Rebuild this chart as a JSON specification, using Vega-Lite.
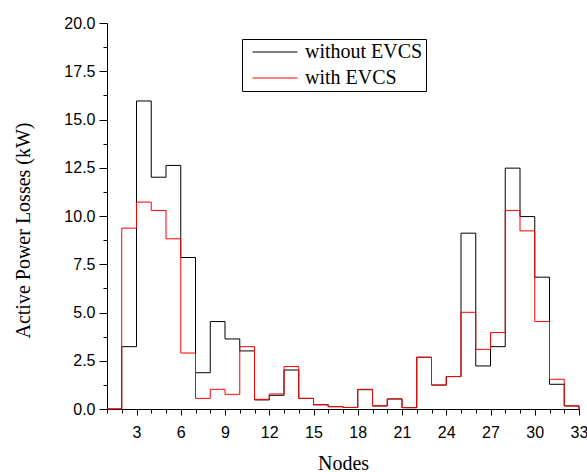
{
  "$schema": "https://vega.github.io/schema/vega-lite/v6.json",
  "autosize": {"type": "none"},
  "padding": {"left": 107, "top": 23, "right": 8, "bottom": 63},
  "width": 472,
  "height": 386,
  "background": "white",
  "config": {"view": {"stroke": null}},
  "data": {"values": [
    {"node": 1, "series": "without EVCS", "loss": 0},
    {"node": 2, "series": "without EVCS", "loss": 3.23},
    {"node": 3, "series": "without EVCS", "loss": 15.96},
    {"node": 4, "series": "without EVCS", "loss": 12.01},
    {"node": 5, "series": "without EVCS", "loss": 12.62},
    {"node": 6, "series": "without EVCS", "loss": 7.85},
    {"node": 7, "series": "without EVCS", "loss": 1.88},
    {"node": 8, "series": "without EVCS", "loss": 4.53},
    {"node": 9, "series": "without EVCS", "loss": 3.63},
    {"node": 10, "series": "without EVCS", "loss": 3.01},
    {"node": 11, "series": "without EVCS", "loss": 0.47},
    {"node": 12, "series": "without EVCS", "loss": 0.71},
    {"node": 13, "series": "without EVCS", "loss": 2.02},
    {"node": 14, "series": "without EVCS", "loss": 0.55},
    {"node": 15, "series": "without EVCS", "loss": 0.22},
    {"node": 16, "series": "without EVCS", "loss": 0.12},
    {"node": 17, "series": "without EVCS", "loss": 0.08},
    {"node": 18, "series": "without EVCS", "loss": 1.0},
    {"node": 19, "series": "without EVCS", "loss": 0.16},
    {"node": 20, "series": "without EVCS", "loss": 0.52},
    {"node": 21, "series": "without EVCS", "loss": 0.07},
    {"node": 22, "series": "without EVCS", "loss": 2.68},
    {"node": 23, "series": "without EVCS", "loss": 1.24},
    {"node": 24, "series": "without EVCS", "loss": 1.68},
    {"node": 25, "series": "without EVCS", "loss": 9.11},
    {"node": 26, "series": "without EVCS", "loss": 2.23},
    {"node": 27, "series": "without EVCS", "loss": 3.23},
    {"node": 28, "series": "without EVCS", "loss": 12.48},
    {"node": 29, "series": "without EVCS", "loss": 9.97},
    {"node": 30, "series": "without EVCS", "loss": 6.83},
    {"node": 31, "series": "without EVCS", "loss": 1.28},
    {"node": 32, "series": "without EVCS", "loss": 0.16},
    {"node": 33, "series": "without EVCS", "loss": 0},
    {"node": 1, "series": "with EVCS", "loss": 0},
    {"node": 2, "series": "with EVCS", "loss": 9.37},
    {"node": 3, "series": "with EVCS", "loss": 10.72},
    {"node": 4, "series": "with EVCS", "loss": 10.29},
    {"node": 5, "series": "with EVCS", "loss": 8.82},
    {"node": 6, "series": "with EVCS", "loss": 2.9},
    {"node": 7, "series": "with EVCS", "loss": 0.55},
    {"node": 8, "series": "with EVCS", "loss": 1.02},
    {"node": 9, "series": "with EVCS", "loss": 0.76},
    {"node": 10, "series": "with EVCS", "loss": 3.23},
    {"node": 11, "series": "with EVCS", "loss": 0.5},
    {"node": 12, "series": "with EVCS", "loss": 0.78},
    {"node": 13, "series": "with EVCS", "loss": 2.2},
    {"node": 14, "series": "with EVCS", "loss": 0.55},
    {"node": 15, "series": "with EVCS", "loss": 0.22},
    {"node": 16, "series": "with EVCS", "loss": 0.12},
    {"node": 17, "series": "with EVCS", "loss": 0.08},
    {"node": 18, "series": "with EVCS", "loss": 1.02},
    {"node": 19, "series": "with EVCS", "loss": 0.16},
    {"node": 20, "series": "with EVCS", "loss": 0.52},
    {"node": 21, "series": "with EVCS", "loss": 0.07},
    {"node": 22, "series": "with EVCS", "loss": 2.68},
    {"node": 23, "series": "with EVCS", "loss": 1.24},
    {"node": 24, "series": "with EVCS", "loss": 1.68},
    {"node": 25, "series": "with EVCS", "loss": 5.01},
    {"node": 26, "series": "with EVCS", "loss": 3.09},
    {"node": 27, "series": "with EVCS", "loss": 3.96},
    {"node": 28, "series": "with EVCS", "loss": 10.29},
    {"node": 29, "series": "with EVCS", "loss": 9.23},
    {"node": 30, "series": "with EVCS", "loss": 4.53},
    {"node": 31, "series": "with EVCS", "loss": 1.54},
    {"node": 32, "series": "with EVCS", "loss": 0.16},
    {"node": 33, "series": "with EVCS", "loss": 0}
  ]},
  "mark": {"type": "line", "interpolate": "step-after", "strokeWidth": 1, "clip": false},
  "encoding": {
    "x": {
      "field": "node", "type": "quantitative",
      "scale": {"domain": [1, 33], "nice": false, "zero": false},
      "axis": {
        "title": "Nodes",
        "titleFont": "Liberation Serif", "titleFontSize": 20, "titleFontWeight": "normal", "titleColor": "black",
        "titleBaseline": "alphabetic", "titleY": 60,
        "values": [1,2,3,4,5,6,7,8,9,10,11,12,13,14,15,16,17,18,19,20,21,22,23,24,25,26,27,28,29,30,31,32,33],
        "labelExpr": "datum.value % 3 === 0 ? datum.label : ''",
        "labelOverlap": false, "labelFlush": false,
        "labelFont": "Liberation Sans", "labelFontSize": 16, "labelColor": "black",
        "labelPadding": 9,
        "tickSize": {"condition": {"test": "datum.value % 3 === 0", "value": 6}, "value": 4},
        "tickColor": "black", "domainColor": "black", "grid": false
      }
    },
    "y": {
      "field": "loss", "type": "quantitative",
      "scale": {"domain": [0, 20], "nice": false},
      "axis": {
        "title": "Active Power Losses (kW)",
        "titleFont": "Liberation Serif", "titleFontSize": 20, "titleFontWeight": "normal", "titleColor": "black",
        "titleBaseline": "alphabetic", "titleAlign": "center", "titleAngle": 270,
        "titleX": -78, "titleY": 207,
        "values": [0,1.25,2.5,3.75,5,6.25,7.5,8.75,10,11.25,12.5,13.75,15,16.25,17.5,18.75,20],
        "labelExpr": "datum.value % 2.5 === 0 ? format(datum.value, '.1f') : ''",
        "labelOverlap": false, "labelFlush": false,
        "labelFont": "Liberation Sans", "labelFontSize": 16, "labelColor": "black",
        "labelPadding": 4,
        "tickSize": {"condition": {"test": "datum.value % 2.5 === 0", "value": 8}, "value": 4},
        "tickColor": "black", "domainColor": "black", "grid": false
      }
    },
    "color": {
      "field": "series", "type": "nominal",
      "sort": ["without EVCS", "with EVCS"],
      "scale": {"domain": ["without EVCS", "with EVCS"], "range": ["#000000", "#ff0000"]},
      "legend": {
        "title": null,
        "orient": "none", "legendX": 135, "legendY": 16,
        "symbolType": "M-2.5,0H2.5", "symbolSize": 324, "symbolStrokeWidth": 1,
        "symbolOffset": 20,
        "labelFont": "Liberation Serif", "labelFontSize": 20, "labelColor": "black",
        "labelOffset": 20, "labelLimit": 300,
        "rowPadding": 6, "padding": 3,
        "strokeColor": "black", "fillColor": "white"
      }
    },
    "order": {"field": "node", "type": "quantitative"}
  }
}
